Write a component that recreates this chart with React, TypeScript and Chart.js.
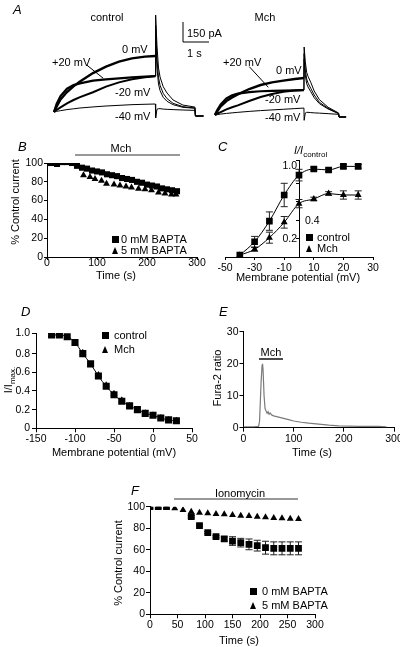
import React, { useEffect, useRef } from 'react';
import { Chart, registerables } from 'chart.js';

const FONT = '"Liberation Sans", Arial, Helvetica, sans-serif';
const INK = '#000';

// ---------------- Panel A: current traces (time s, current pA) ----------------
const aTime = [0, 0.1, 0.25, 0.5, 0.75, 1, 1.5, 2, 2.5, 3, 3.5, 3.9, 3.91, 3.96, 4.02, 4.08, 4.2, 4.35, 4.58, 4.96, 5.42, 5.44, 5.75];
const aControl0mV = [0, 40, 95, 150, 192, 228, 292, 340, 378, 402, 415, 420, 727, 500, 330, 262, 190, 142, 90, 52, 37, -30, -30];
const aControlP20mV = [0, 60, 120, 175, 202, 215, 235, 245, 252, 260, 266, 270, 650, 400, 260, 200, 140, 100, 65, 40, 30, -30, -30];
const aControlM20mV = [0, 15, 35, 65, 90, 112, 148, 190, 222, 245, 260, 268, 560, 330, 210, 160, 110, 80, 55, 35, 28, -30, -30];
const aControlM40mV = [0, 5, 10, 18, 24, 30, 38, 45, 50, 55, 58, 60, -45, 20, 25, 25, 22, 20, 18, 15, 12, -30, -30];
const aMch0mV = [0, 28, 65, 105, 132, 155, 195, 225, 245, 258, 270, 277, 510, 400, 320, 290, 245, 180, 115, 58, 15, -15, -15];
const aMchP20mV = [0, 38, 80, 125, 148, 160, 172, 178, 181, 183, 185, 187, 460, 340, 270, 240, 200, 150, 95, 50, 12, -15, -15];
const aMchM20mV = [0, 10, 22, 42, 58, 72, 105, 135, 158, 175, 183, 187, 420, 300, 235, 210, 175, 130, 85, 45, 10, -15, -15];
const aMchM40mV = [0, 3, 7, 12, 16, 20, 27, 33, 38, 43, 48, 52, -40, 15, 20, 20, 18, 16, 14, 10, 5, -15, -15];

// ---------------- Panel B ----------------
const bTime0 = [0, 10, 20, 30, 40, 50, 60, 70, 80, 90, 100, 110, 120, 130, 140, 150, 160, 170, 180, 190, 200, 210, 220, 230, 240, 250, 260];
const bBapta0 = [100, 100, 99, 101, 101, 100, 97, 95, 94, 92, 91, 90, 88, 87, 86, 84, 83, 82, 80, 79, 77, 76, 75, 73, 72, 71, 70];
const bTime5 = [0, 12, 24, 36, 48, 60, 73, 86, 96, 109, 119, 134, 146, 158, 169, 183, 196, 209, 223, 236, 249, 258];
const bBapta5 = [100, 100, 100, 101, 100, 102, 87, 85, 83, 81, 78, 77, 76, 75, 74, 72.5, 72, 71, 68.5, 67.5, 66.5, 66.5];

// ---------------- Panel C ----------------
const cVoltage = ['-50', '-40', '-30', '-20', '-10', '0', '10', '15', '20', '25', '30'];
const cControl = [null, 0.02, 0.166, 0.39, 0.674, 0.89, 0.956, 0.946, 0.985, 0.985, null];
const cControlErr = [0, 0, 0.058, 0.1, 0.127, 0.063, 0.02, 0.02, 0.02, 0.02, 0];
const cMch = [null, 0.02, 0.083, 0.21, 0.377, 0.58, 0.63, 0.69, 0.674, 0.674, null];
const cMchErr = [0, 0, 0.02, 0.06, 0.063, 0.045, 0.02, 0.02, 0.045, 0.045, 0];
const cYTickLabels = ['1.0', '0.4', '0.2'];

// ---------------- Panel D ----------------
const dVoltage = [-130, -120, -110, -100, -90, -80, -70, -60, -50, -40, -30, -20, -10, 0, 10, 20, 30];
const dControl = [1.0, 1.0, 0.98, 0.92, 0.8, 0.69, 0.56, 0.45, 0.36, 0.29, 0.24, 0.2, 0.16, 0.14, 0.11, 0.09, 0.08];
const dMch = [1.0, 1.0, 0.97, 0.91, 0.81, 0.68, 0.57, 0.46, 0.37, 0.3, 0.24, 0.2, 0.16, 0.14, 0.11, 0.09, 0.08];

// ---------------- Panel E ----------------
const eTime = [0, 10, 20, 30, 32, 35, 37, 38, 39, 41, 43, 45, 47, 49, 51, 53, 56, 60, 70, 80, 90, 100, 115, 130, 150, 170, 190, 210, 230, 250, 270, 285];
const eRatio = [0.3, 0.3, 0.3, 0.4, 2, 14, 19.5, 20, 18, 10, 6, 5.2, 4.5, 5.0, 4.2, 4.6, 4.0, 3.7, 3.3, 2.9, 2.5, 2.1, 1.7, 1.4, 1.1, 0.8, 0.6, 0.5, 0.4, 0.4, 0.4, 0.3];

// ---------------- Panel F ----------------
const fTime = [0, 15, 30, 45, 60, 75, 90, 105, 120, 135, 150, 165, 180, 195, 210, 225, 240, 255, 270];
const fBapta0 = [100, 100, 100, null, null, 90.7, 82.4, 75.9, 72.1, 70, 68.1, 66.6, 65, 63.8, 61.9, 61.3, 61.3, 61.3, 61.3];
const fBapta0Err = [0, 0, 0, 0, 0, 1, 1, 1, 1, 2, 4, 4, 5, 5, 6, 6, 6, 6, 6];
const fBapta5 = [100, 100, 100, 98.5, 96.9, 95.4, 94.4, 93.8, 93.2, 92.9, 92.3, 91.6, 91.3, 90.7, 90.1, 89.5, 89.2, 88.9, 88.5];

// ---------------- helpers ----------------
const zip = (xs: number[], ys: (number | null)[]) => xs.map((x, i) => ({ x, y: ys[i] }));

const errorBarPlugin = {
  id: 'errorBars',
  beforeDatasetsDraw(chart: any) {
    const { ctx } = chart;
    chart.data.datasets.forEach((ds: any, i: number) => {
      if (!ds.errors) return;
      const meta = chart.getDatasetMeta(i);
      const yScale = chart.scales[meta.yAxisID];
      ctx.save();
      ctx.strokeStyle = ds.errorColor || '#222';
      ctx.lineWidth = 1;
      meta.data.forEach((pt: any, j: number) => {
        const e = ds.errors[j];
        const raw = ds.data[j];
        const v = raw !== null && typeof raw === 'object' ? raw.y : raw;
        if (!e || v === null || v === undefined) return;
        const x = pt.x;
        const y1 = yScale.getPixelForValue(v + e);
        const y2 = yScale.getPixelForValue(v - e);
        const cap = ds.errorCap || 3.5;
        ctx.beginPath();
        ctx.moveTo(x, y1);
        ctx.lineTo(x, y2);
        ctx.moveTo(x - cap, y1);
        ctx.lineTo(x + cap, y1);
        ctx.moveTo(x - cap, y2);
        ctx.lineTo(x + cap, y2);
        ctx.stroke();
      });
      ctx.restore();
    });
  },
};

Chart.register(...registerables, errorBarPlugin);

const tickFont = { family: FONT, size: 10.5 };

function linAxis(o: any) {
  const ticks: any = { stepSize: o.step, font: tickFont, color: INK, padding: o.pad ?? 1, autoSkip: false, maxRotation: 0 };
  if (o.cb) ticks.callback = o.cb;
  return {
    type: 'linear',
    min: o.min,
    max: o.max,
    ticks,
    grid: { display: true, drawOnChartArea: false, drawTicks: true, tickLength: o.tl ?? 3, color: INK, lineWidth: 1 },
    border: { display: true, color: INK, width: 1 },
    afterFit: o.fit,
  };
}

const baseOpts = (padding: any, scales: any) => ({
  animation: false,
  responsive: false,
  events: [],
  layout: { padding },
  plugins: { legend: { display: false }, tooltip: { enabled: false } },
  scales,
});

const squareDs = (label: string, data: any, r: number, extra: any = {}) => ({
  label,
  data,
  pointStyle: 'rect',
  pointRadius: r,
  backgroundColor: INK,
  borderColor: INK,
  pointBorderWidth: 0,
  borderWidth: 1,
  showLine: false,
  ...extra,
});
const triDs = (label: string, data: any, r: number, extra: any = {}) => ({
  label,
  data,
  pointStyle: 'triangle',
  pointRadius: r,
  backgroundColor: INK,
  borderColor: INK,
  pointBorderWidth: 0,
  borderWidth: 1,
  showLine: false,
  ...extra,
});

const traceDs = (ys: number[], w: number) => ({
  data: zip(aTime, ys),
  borderColor: INK,
  borderWidth: w,
  pointRadius: 0,
  showLine: true,
  tension: 0,
  segment: { borderWidth: (c: any) => (c.p0.parsed.x >= 3.9 ? 1 : w) },
});

const traceConfig = (sets: any[], xmin: number, xmax: number, ymin: number, ymax: number) => ({
  type: 'scatter',
  data: { datasets: sets },
  options: baseOpts(0, {
    x: { type: 'linear', display: false, min: xmin, max: xmax },
    y: { type: 'linear', display: false, min: ymin, max: ymax },
  }),
});

// ---------------- chart configs ----------------
const configAControl = traceConfig(
  [traceDs(aControl0mV, 2.4), traceDs(aControlP20mV, 2.2), traceDs(aControlM20mV, 2), traceDs(aControlM40mV, 1)],
  -0.346, 5.808, -97.5, 765
);
const configAMch = traceConfig(
  [traceDs(aMch0mV, 2.4), traceDs(aMchP20mV, 2.2), traceDs(aMchM20mV, 2), traceDs(aMchM40mV, 1)],
  -0.4386, 6.14, -75, 787.5
);

const configB = {
  type: 'scatter',
  data: {
    datasets: [
      squareDs('0 mM BAPTA', zip(bTime0, bBapta0), 4.3),
      triDs('5 mM BAPTA', zip(bTime5, bBapta5), 4),
    ],
  },
  options: baseOpts({ left: 0, top: 23, right: 18, bottom: 0 }, {
    x: linAxis({ min: 0, max: 300, step: 100, tl: 3, pad: -3, fit: (s: any) => { s.height = 43; } }),
    y: linAxis({ min: 0, max: 100, step: 20, tl: 3, pad: 1, fit: (s: any) => { s.width = 47; } }),
  }),
};

const configC = {
  type: 'line',
  data: {
    labels: cVoltage,
    datasets: [
      squareDs('control', cControl, 4.7, { showLine: true, errors: cControlErr, cubicInterpolationMode: 'monotone' }),
      triDs('Mch', cMch, 4, { showLine: true, errors: cMchErr, cubicInterpolationMode: 'monotone' }),
    ],
  },
  options: baseOpts({ left: 20, top: 20.4, right: 22, bottom: 0 }, {
    x: {
      type: 'category',
      offset: false,
      ticks: {
        font: tickFont, color: INK, padding: 2, autoSkip: false, maxRotation: 0,
        callback: (_v: any, i: number) => (i % 2 === 0 ? cVoltage[i] : ''),
      },
      grid: {
        display: true, drawOnChartArea: false, drawTicks: true, tickLength: 3, lineWidth: 1,
        color: (c: any) => (c.index % 2 === 0 ? INK : 'rgba(0,0,0,0)'),
      },
      border: { display: true, color: INK, width: 1 },
      afterFit: (s: any) => { s.height = 43; },
    },
    y: {
      type: 'linear',
      position: { x: 5 },
      min: 0,
      max: 1.05,
      ticks: { stepSize: 0.2, display: false },
      grid: { display: true, drawOnChartArea: false, drawTicks: true, tickLength: 3, color: INK, lineWidth: 1 },
      border: { display: true, color: INK, width: 1 },
    },
  }),
};

const configD = {
  type: 'scatter',
  data: {
    datasets: [
      squareDs('control', zip(dVoltage, dControl), 5, { showLine: true, cubicInterpolationMode: 'monotone' }),
      triDs('Mch', zip(dVoltage, dMch), 4),
    ],
  },
  options: baseOpts({ left: 0, top: 33.1, right: 23, bottom: 0 }, {
    x: linAxis({ min: -150, max: 50, step: 50, tl: 4, pad: 1, fit: (s: any) => { s.height = 31.7; } }),
    y: linAxis({
      min: 0, max: 1.02, step: 0.2, tl: 4, pad: 2,
      cb: (v: number) => (v === 0 ? '0' : v.toFixed(1)),
      fit: (s: any) => { s.width = 36; },
    }),
  }),
};

const configE = {
  type: 'scatter',
  data: {
    datasets: [
      { label: 'Fura-2 ratio', data: zip(eTime, eRatio), showLine: true, pointRadius: 0, borderColor: '#7a7a7a', borderWidth: 1.2, tension: 0 },
    ],
  },
  options: baseOpts({ left: 0, top: 31.7, right: 21, bottom: 0 }, {
    x: linAxis({ min: 0, max: 300, step: 100, tl: 4, pad: 1, fit: (s: any) => { s.height = 32.3; } }),
    y: linAxis({ min: 0, max: 30, step: 10, tl: 4, pad: 1, fit: (s: any) => { s.width = 43.5; } }),
  }),
};

const configF = {
  type: 'scatter',
  data: {
    datasets: [
      triDs('5 mM BAPTA', zip(fTime, fBapta5), 4),
      squareDs('0 mM BAPTA', zip(fTime, fBapta0), 4.8, { errors: fBapta0Err }),
    ],
  },
  options: baseOpts({ left: 0, top: 46.7, right: 85, bottom: 0 }, {
    x: linAxis({ min: 0, max: 300, step: 50, tl: 4, pad: 1, fit: (s: any) => { s.height = 32.7; } }),
    y: linAxis({ min: 0, max: 100, step: 20, tl: 4, pad: 1, fit: (s: any) => { s.width = 70; } }),
  }),
};

// ---------------- components ----------------
function ChartBox({ left, top, width, height, config }: any) {
  const ref = useRef<HTMLCanvasElement>(null);
  useEffect(() => {
    const chart = new Chart(ref.current as HTMLCanvasElement, config);
    return () => chart.destroy();
  }, []);
  return (
    <div style={{ position: 'absolute', left, top, width, height }}>
      <canvas ref={ref} width={width} height={height} style={{ width, height, display: 'block' }} />
    </div>
  );
}

function Txt({ x, y, children, size = 11, align = 'left', italic = false, rotate = false }: any) {
  const tx = align === 'left' ? '0' : align === 'center' ? '-50%' : '-100%';
  return (
    <div
      style={{
        position: 'absolute',
        left: x,
        top: y,
        transform: rotate ? 'translate(-50%,-50%) rotate(-90deg)' : `translate(${tx},-50%)`,
        fontFamily: FONT,
        fontSize: size,
        fontStyle: italic ? 'italic' : 'normal',
        whiteSpace: 'nowrap',
        lineHeight: 1,
        color: INK,
      }}
    >
      {children}
    </div>
  );
}

function Sq({ x, y, s = 7 }: any) {
  return <div style={{ position: 'absolute', left: x - s / 2, top: y - s / 2, width: s, height: s, background: INK }} />;
}
function Tri({ x, y, s = 7 }: any) {
  return (
    <div
      style={{
        position: 'absolute', left: x - s / 2, top: y - s / 2, width: 0, height: 0,
        borderLeft: `${s / 2}px solid transparent`, borderRight: `${s / 2}px solid transparent`,
        borderBottom: `${s}px solid ${INK}`,
      }}
    />
  );
}

export default function App() {
  return (
    <div style={{ position: 'absolute', left: 0, top: 0, width: 400, height: 647, overflow: 'hidden', background: '#fff' }}>
      {/* Panel A */}
      <ChartBox left={45} top={10} width={160} height={115} config={configAControl} />
      <ChartBox left={205} top={10} width={150} height={115} config={configAMch} />
      {/* Panel B */}
      <ChartBox left={0} top={140} width={215} height={160} config={configB} />
      {/* Panel C */}
      <ChartBox left={205} top={140} width={190} height={160} config={configC} />
      {/* Panel D */}
      <ChartBox left={0} top={300} width={215} height={160} config={configD} />
      {/* Panel E */}
      <ChartBox left={200} top={300} width={215} height={160} config={configE} />
      {/* Panel F */}
      <ChartBox left={80} top={460} width={320} height={187} config={configF} />

      <svg width={400} height={647} style={{ position: 'absolute', left: 0, top: 0, pointerEvents: 'none' }}>
        <g stroke={INK} strokeWidth={1} fill="none">
          <polyline points="183,22 183,42 209,42" />
          <line x1={86.7} y1={65} x2={103.3} y2={78.3} />
          <line x1={249.3} y1={66.7} x2={268.3} y2={87.3} />
          <line x1={75} y1={155} x2={180} y2={155} stroke="#333" />
          <line x1={259} y1={359} x2={283} y2={359} strokeWidth={1.4} />
          <line x1={174} y1={499} x2={298} y2={499} stroke="#333" />
        </g>
      </svg>

      {/* Panel A text */}
      <Txt x={13} y={9} size={13} italic>A</Txt>
      <Txt x={107} y={17} align="center">control</Txt>
      <Txt x={265} y={17} align="center">Mch</Txt>
      <Txt x={122} y={49}>0 mV</Txt>
      <Txt x={52} y={62}>+20 mV</Txt>
      <Txt x={115} y={92}>-20 mV</Txt>
      <Txt x={115} y={116}>-40 mV</Txt>
      <Txt x={223} y={62}>+20 mV</Txt>
      <Txt x={276} y={70}>0 mV</Txt>
      <Txt x={265} y={99}>-20 mV</Txt>
      <Txt x={265} y={117}>-40 mV</Txt>
      <Txt x={187} y={33}>150 pA</Txt>
      <Txt x={187} y={53}>1 s</Txt>

      {/* Panel B text */}
      <Txt x={18} y={146} size={13} italic>B</Txt>
      <Txt x={121} y={148} align="center">Mch</Txt>
      <Txt x={15} y={202} rotate>% Control current</Txt>
      <Txt x={116} y={275} align="center">Time (s)</Txt>
      <Sq x={115} y={239} />
      <Txt x={121} y={239}>0 mM BAPTA</Txt>
      <Tri x={115} y={250} />
      <Txt x={121} y={250}>5 mM BAPTA</Txt>

      {/* Panel C text */}
      <Txt x={218} y={146} size={13} italic>C</Txt>
      <div style={{ position: 'absolute', left: 294, top: 145, fontFamily: FONT, fontSize: 11, lineHeight: 1, whiteSpace: 'nowrap' }}>
        <span style={{ fontStyle: 'italic' }}>I/I</span>
        <span style={{ fontSize: 8, verticalAlign: -3 }}>control</span>
      </div>
      <Txt x={297} y={165} size={10.5} align="right">{cYTickLabels[0]}</Txt>
      <Txt x={305} y={220} size={10.5}>{cYTickLabels[1]}</Txt>
      <Txt x={297} y={238} size={10.5} align="right">{cYTickLabels[2]}</Txt>
      <Sq x={309} y={237} />
      <Txt x={317} y={237}>control</Txt>
      <Tri x={309} y={248} />
      <Txt x={317} y={248}>Mch</Txt>
      <Txt x={298} y={277} align="center">Membrane potential (mV)</Txt>

      {/* Panel D text */}
      <Txt x={21} y={311} size={13} italic>D</Txt>
      <div
        style={{
          position: 'absolute', left: 10, top: 380, transform: 'translate(-50%,-50%) rotate(-90deg)',
          fontFamily: FONT, fontSize: 11, lineHeight: 1, whiteSpace: 'nowrap',
        }}
      >
        <span>I/I</span>
        <span style={{ fontSize: 8, verticalAlign: -3 }}>max.</span>
      </div>
      <Sq x={105} y={335} />
      <Txt x={114} y={335}>control</Txt>
      <Tri x={105} y={349} />
      <Txt x={114} y={349}>Mch</Txt>
      <Txt x={114} y={452} align="center">Membrane potential (mV)</Txt>

      {/* Panel E text */}
      <Txt x={219} y={311} size={13} italic>E</Txt>
      <Txt x={271} y={352} align="center">Mch</Txt>
      <Txt x={217} y={378} rotate>Fura-2 ratio</Txt>
      <Txt x={312} y={452} align="center">Time (s)</Txt>

      {/* Panel F text */}
      <Txt x={131} y={490} size={13} italic>F</Txt>
      <Txt x={240} y={493} align="center">Ionomycin</Txt>
      <Txt x={118} y={563} rotate>% Control current</Txt>
      <Txt x={239} y={640} align="center">Time (s)</Txt>
      <Sq x={253} y={591} />
      <Txt x={262} y={591}>0 mM BAPTA</Txt>
      <Tri x={253} y={605} />
      <Txt x={262} y={605}>5 mM BAPTA</Txt>
    </div>
  );
}
